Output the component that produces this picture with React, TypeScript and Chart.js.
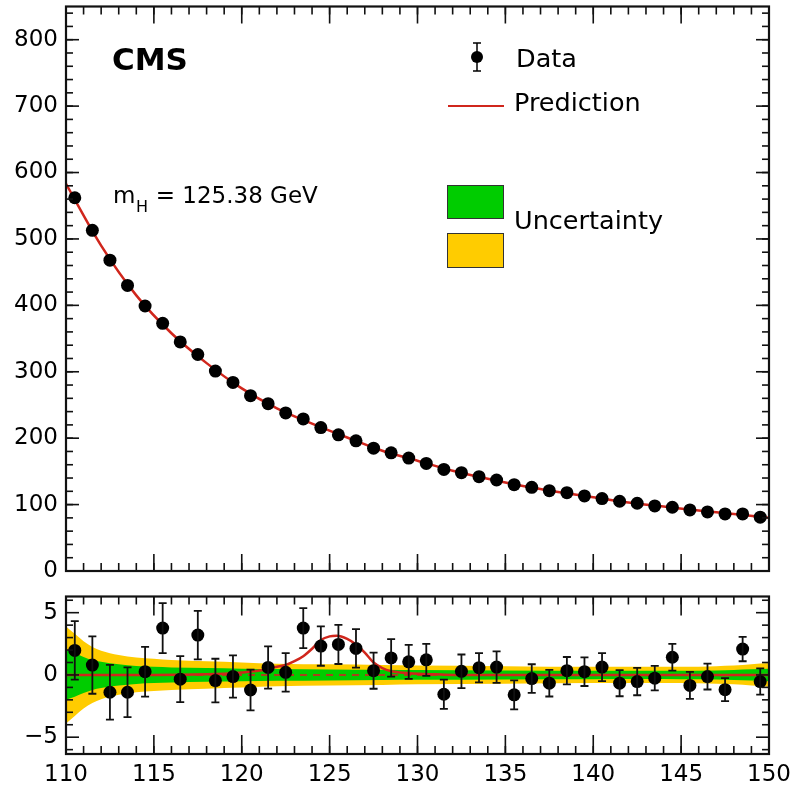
import React, { useEffect, useRef } from 'react';
import { Chart, registerables } from 'chart.js';

Chart.register(...registerables);

const FONT = '"DejaVu Sans", "Liberation Sans", Arial, sans-serif';

// ---- Data ----
const massBins = [
  110.5, 111.5, 112.5, 113.5, 114.5, 115.5, 116.5, 117.5, 118.5, 119.5,
  120.5, 121.5, 122.5, 123.5, 124.5, 125.5, 126.5, 127.5, 128.5, 129.5,
  130.5, 131.5, 132.5, 133.5, 134.5, 135.5, 136.5, 137.5, 138.5, 139.5,
  140.5, 141.5, 142.5, 143.5, 144.5, 145.5, 146.5, 147.5, 148.5, 149.5,
];
const eventCounts = [
  562, 513, 468, 430, 399, 373, 345, 326, 301, 284,
  264, 252, 238, 229, 216, 205, 196, 185, 178, 170,
  162, 153, 148, 142, 137, 130, 126, 121, 118, 113,
  109, 105, 102, 98, 96, 92, 89, 86, 86, 81,
];
const predMass = [110, 112, 114, 116, 118, 120, 122, 124, 126, 128, 130, 132, 134, 136, 138, 140, 142, 144, 146, 148, 150];
const predValues = [583, 490, 415, 358, 313, 275, 245, 222, 201, 181, 166, 151, 139, 128, 119, 111, 103, 97, 91, 86, 80];

const pullValues = [
  1.97, 0.79, -1.39, -1.39, 0.26, 3.76, -0.34, 3.2, -0.45, -0.13,
  -1.21, 0.6, 0.21, 3.76, 2.32, 2.45, 2.13, 0.34, 1.37, 1.05,
  1.21, -1.55, 0.29, 0.58, 0.63, -1.6, -0.29, -0.66, 0.34, 0.26,
  0.63, -0.66, -0.53, -0.26, 1.42, -0.84, -0.13, -1.18, 2.08, -0.53,
];
const pullErrors = [
  2.35, 2.3, 2.2, 2.0, 2.0, 2.0, 1.85, 1.95, 1.75, 1.7,
  1.63, 1.7, 1.55, 1.6, 1.58, 1.57, 1.55, 1.45, 1.5, 1.37,
  1.28, 1.17, 1.35, 1.17, 1.27, 1.17, 1.15, 1.07, 1.1, 1.15,
  1.13, 1.05, 1.1, 0.98, 1.07, 1.09, 1.04, 0.92, 0.98, 1.05,
];
const signalMass = [110, 115, 118, 119, 120, 121, 122, 122.5, 123, 123.5, 124, 124.5, 125, 125.4, 126, 126.5, 127, 127.5, 128, 128.5, 129, 130, 131, 132, 140, 150];
const signalValues = [0, 0, 0.05, 0.1, 0.2, 0.35, 0.65, 0.8, 1.1, 1.5, 2.1, 2.8, 3.1, 3.15, 2.9, 2.45, 1.8, 1.0, 0.55, 0.3, 0.2, 0.1, 0.05, 0, 0, 0];

const bandMass = [110, 110.5, 111, 111.5, 112, 113, 114, 115, 116, 118, 120, 122, 125, 128, 130, 135, 140, 143, 145, 147, 148, 149, 150];
const yellowHalf = [3.9, 3.3, 2.7, 2.25, 1.95, 1.6, 1.4, 1.3, 1.2, 1.1, 1.0, 0.9, 0.85, 0.8, 0.75, 0.7, 0.65, 0.65, 0.65, 0.7, 0.75, 0.85, 0.95];
const greenHalf = [2.0, 1.75, 1.45, 1.2, 1.05, 0.85, 0.72, 0.65, 0.6, 0.55, 0.5, 0.47, 0.44, 0.41, 0.39, 0.36, 0.34, 0.33, 0.34, 0.36, 0.4, 0.45, 0.5];

// ---- Ticks ----
const xMajorTicks = [110, 115, 120, 125, 130, 135, 140, 145, 150];
const xMinorTicks = Array.from({ length: 41 }, (_, i) => 110 + i);
const topYMajorTicks = [0, 100, 200, 300, 400, 500, 600, 700, 800];
const topYMinorTicks = Array.from({ length: 43 }, (_, i) => i * 20);
const bottomYMajorTicks = [-5, 0, 5];
const bottomYMinorTicks = [-6, -4, -3, -2, -1, 1, 2, 3, 4, 6];

const GREEN = '#00cc00';
const YELLOW = '#ffcc00';
const RED = '#d0261c';

function frameTicksPlugin(cfg: any) {
  return {
    id: 'frameTicks',
    afterDraw(chart: any) {
      const { ctx, chartArea: a, scales } = chart;
      const x = scales.x, y = scales.y;
      ctx.save();
      ctx.strokeStyle = '#111';
      ctx.lineWidth = 1.6;
      const seg = (x1: number, y1: number, x2: number, y2: number) => {
        ctx.beginPath(); ctx.moveTo(x1, y1); ctx.lineTo(x2, y2); ctx.stroke();
      };
      for (const v of cfg.xMinor) {
        const p = x.getPixelForValue(v);
        seg(p, a.bottom, p, a.bottom - cfg.xMinorLen);
        seg(p, a.top, p, a.top + cfg.xMinorLen);
      }
      for (const v of cfg.xMajor) {
        const p = x.getPixelForValue(v);
        seg(p, a.bottom, p, a.bottom - cfg.xMajorLen);
        seg(p, a.top, p, a.top + cfg.xMajorLen);
      }
      for (const v of cfg.yMinor) {
        const p = y.getPixelForValue(v);
        if (p < a.top || p > a.bottom) continue;
        seg(a.left, p, a.left + cfg.yMinorLen, p);
        seg(a.right, p, a.right - cfg.yMinorLen, p);
      }
      for (const v of cfg.yMajor) {
        const p = y.getPixelForValue(v);
        seg(a.left, p, a.left + cfg.yMajorLen, p);
        seg(a.right, p, a.right - cfg.yMajorLen, p);
      }
      ctx.lineWidth = 2.2;
      ctx.strokeRect(a.left, a.top, a.right - a.left, a.bottom - a.top);
      ctx.restore();
    },
  };
}

const annotationsPlugin = {
  id: 'annotations',
  afterDraw(chart: any) {
    const { ctx } = chart;
    ctx.save();
    ctx.fillStyle = '#000';
    ctx.textBaseline = 'alphabetic';
    ctx.textAlign = 'left';
    ctx.font = `bold 31px ${FONT}`;
    ctx.fillText('CMS', 112, 70);

    ctx.font = `23px ${FONT}`;
    ctx.fillText('m', 113, 203);
    const mW = ctx.measureText('m').width;
    ctx.font = `16px ${FONT}`;
    ctx.fillText('H', 113 + mW + 0.5, 212);
    const hW = ctx.measureText('H').width;
    ctx.font = `23px ${FONT}`;
    ctx.fillText(' = 125.38 GeV', 113 + mW + hW + 1, 203);

    // legend
    ctx.font = `25.5px ${FONT}`;
    ctx.fillText('Data', 516, 67);
    ctx.fillText('Prediction', 514, 111);
    ctx.fillText('Uncertainty', 514, 229);

    ctx.strokeStyle = '#000';
    ctx.lineWidth = 1.5;
    ctx.beginPath();
    ctx.moveTo(477, 43); ctx.lineTo(477, 71);
    ctx.moveTo(473, 43); ctx.lineTo(481, 43);
    ctx.moveTo(473, 71); ctx.lineTo(481, 71);
    ctx.stroke();
    ctx.beginPath();
    ctx.arc(477, 57, 6, 0, Math.PI * 2);
    ctx.fill();

    ctx.strokeStyle = RED;
    ctx.lineWidth = 2;
    ctx.beginPath(); ctx.moveTo(448, 106); ctx.lineTo(504, 106); ctx.stroke();

    ctx.lineWidth = 1;
    ctx.strokeStyle = '#333';
    ctx.fillStyle = GREEN;
    ctx.fillRect(447, 185, 57, 34);
    ctx.strokeRect(447.5, 185.5, 56, 33);
    ctx.fillStyle = YELLOW;
    ctx.fillRect(447, 233, 57, 35);
    ctx.strokeRect(447.5, 233.5, 56, 34);
    ctx.restore();
  },
};

const errorBarsPlugin = {
  id: 'errorBars',
  afterDatasetsDraw(chart: any) {
    const { ctx, scales } = chart;
    const x = scales.x, y = scales.y;
    ctx.save();
    ctx.strokeStyle = '#111';
    ctx.lineWidth = 1.8;
    massBins.forEach((m, i) => {
      const px = x.getPixelForValue(m);
      const hi = y.getPixelForValue(pullValues[i] + pullErrors[i]);
      const lo = y.getPixelForValue(pullValues[i] - pullErrors[i]);
      ctx.beginPath();
      ctx.moveTo(px, hi); ctx.lineTo(px, lo);
      ctx.moveTo(px - 4, hi); ctx.lineTo(px + 4, hi);
      ctx.moveTo(px - 4, lo); ctx.lineTo(px + 4, lo);
      ctx.stroke();
    });
    ctx.restore();
  },
};

const yAxisCommon = (ticks: number[], labels?: (v: number) => string) => ({
  type: 'linear' as const,
  afterFit(s: any) { s.width = 66; s.paddingTop = 0; s.paddingBottom = 0; },
  afterBuildTicks(s: any) { s.ticks = ticks.map((v) => ({ value: v })); },
  grid: { display: false, drawTicks: false },
  border: { display: false },
  ticks: {
    padding: 8,
    color: '#000',
    font: { family: FONT, size: 23 },
    callback: (v: any) => (labels ? labels(Number(v)) : String(v)),
  },
});

export default function App() {
  const topRef = useRef<HTMLCanvasElement>(null);
  const botRef = useRef<HTMLCanvasElement>(null);

  useEffect(() => {
    document.body.style.margin = '0';
    const top = new Chart(topRef.current as HTMLCanvasElement, {
      type: 'line',
      data: {
        datasets: [
          {
            label: 'Data',
            data: massBins.map((m, i) => ({ x: m, y: eventCounts[i] })),
            showLine: false,
            pointRadius: 6.5,
            pointBackgroundColor: '#000',
            pointBorderWidth: 0,
            borderColor: '#000',
          },
          {
            label: 'Prediction',
            data: predMass.map((m, i) => ({ x: m, y: predValues[i] })),
            borderColor: RED,
            borderWidth: 2.5,
            pointRadius: 0,
            cubicInterpolationMode: 'monotone',
          },
        ],
      } as any,
      options: {
        animation: false,
        responsive: false,
        devicePixelRatio: 1,
        layout: { padding: { left: 0, right: 25, top: 5, bottom: 19 } },
        plugins: { legend: { display: false }, tooltip: { enabled: false } },
        scales: {
          x: { type: 'linear', min: 110, max: 150, display: false },
          y: { ...yAxisCommon(topYMajorTicks), min: 0, max: 850 },
        },
      } as any,
      plugins: [
        frameTicksPlugin({
          xMajor: xMajorTicks, xMinor: xMinorTicks, xMajorLen: 17, xMinorLen: 8,
          yMajor: topYMajorTicks, yMinor: topYMinorTicks, yMajorLen: 13, yMinorLen: 7,
        }),
        annotationsPlugin,
      ],
    });

    const bot = new Chart(botRef.current as HTMLCanvasElement, {
      type: 'line',
      data: {
        datasets: [
          {
            label: 'Pull',
            data: massBins.map((m, i) => ({ x: m, y: pullValues[i] })),
            showLine: false,
            pointRadius: 6.5,
            pointBackgroundColor: '#000',
            pointBorderWidth: 0,
            borderColor: '#000',
          },
          {
            label: 'Signal',
            data: signalMass.map((m, i) => ({ x: m, y: signalValues[i] })),
            borderColor: RED,
            borderWidth: 2.5,
            pointRadius: 0,
            cubicInterpolationMode: 'monotone',
          },
          {
            label: 'Zero',
            data: [{ x: 110, y: 0 }, { x: 150, y: 0 }],
            borderColor: '#a8401c',
            borderWidth: 2,
            borderDash: [7, 6],
            pointRadius: 0,
          },
          {
            label: 'Green up',
            data: bandMass.map((m, i) => ({ x: m, y: greenHalf[i] })),
            borderColor: 'transparent',
            borderWidth: 0,
            backgroundColor: GREEN,
            fill: '+1',
            pointRadius: 0,
            cubicInterpolationMode: 'monotone',
          },
          {
            label: 'Green down',
            data: bandMass.map((m, i) => ({ x: m, y: -greenHalf[i] })),
            borderColor: 'transparent',
            borderWidth: 0,
            pointRadius: 0,
            fill: false,
            cubicInterpolationMode: 'monotone',
          },
          {
            label: 'Yellow up',
            data: bandMass.map((m, i) => ({ x: m, y: yellowHalf[i] })),
            borderColor: 'transparent',
            borderWidth: 0,
            backgroundColor: YELLOW,
            fill: '+1',
            pointRadius: 0,
            cubicInterpolationMode: 'monotone',
          },
          {
            label: 'Yellow down',
            data: bandMass.map((m, i) => ({ x: m, y: -yellowHalf[i] })),
            borderColor: 'transparent',
            borderWidth: 0,
            pointRadius: 0,
            fill: false,
            cubicInterpolationMode: 'monotone',
          },
        ],
      } as any,
      options: {
        animation: false,
        responsive: false,
        devicePixelRatio: 1,
        layout: { padding: { left: 0, right: 25, top: 3, bottom: 0 } },
        plugins: { legend: { display: false }, tooltip: { enabled: false } },
        scales: {
          x: {
            type: 'linear',
            min: 110,
            max: 150,
            afterFit(s: any) { s.height = 36; s.paddingLeft = 0; s.paddingRight = 0; },
            afterBuildTicks(s: any) { s.ticks = xMajorTicks.map((v) => ({ value: v })); },
            grid: { display: false, drawTicks: false },
            border: { display: false },
            ticks: { padding: 7, color: '#000', font: { family: FONT, size: 23 }, maxRotation: 0 },
          },
          y: {
            ...yAxisCommon(bottomYMajorTicks, (v) => (v < 0 ? '\u2212' + Math.abs(v) : String(v))),
            min: -6.35,
            max: 6.3,
          },
        },
      } as any,
      plugins: [
        errorBarsPlugin,
        frameTicksPlugin({
          xMajor: xMajorTicks, xMinor: xMinorTicks, xMajorLen: 19, xMinorLen: 8,
          yMajor: bottomYMajorTicks, yMinor: bottomYMinorTicks, yMajorLen: 13, yMinorLen: 7,
        }),
      ],
    });

    return () => {
      top.destroy();
      bot.destroy();
    };
  }, []);

  return (
    <div style={{ width: 794, background: '#fff' }}>
      <canvas ref={topRef} width={794} height={590} style={{ display: 'block' }} />
      <canvas ref={botRef} width={794} height={200} style={{ display: 'block' }} />
    </div>
  );
}
